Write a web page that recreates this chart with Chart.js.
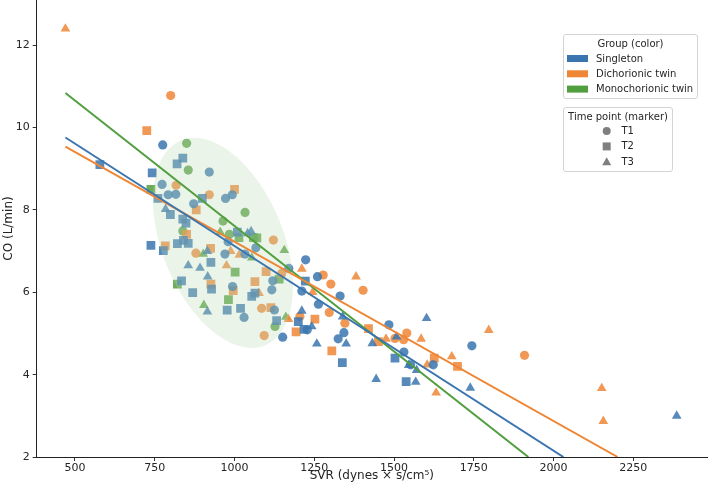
<!DOCTYPE html>
<html><head><meta charset="utf-8">
<script src="https://cdn.jsdelivr.net/npm/chart.js@4.4.0/dist/chart.umd.min.js"></script>
<style>html,body{margin:0;padding:0;background:#fff}#wrap{width:709px;height:491px;position:relative}</style>
</head><body><div id="wrap"><canvas id="c"></canvas></div>
<script>
// ---- data ----
const groups = ['Singleton', 'Dichorionic twin', 'Monochorionic twin'];
const timePoints = ['T1', 'T2', 'T3'];
const xTicks = [500, 750, 1000, 1250, 1500, 1750, 2000, 2250];
const yTicks = [2, 4, 6, 8, 10, 12];

const singletonT1 = [[775,9.58],[921,8.92],[773,8.62],[792,8.37],[816,8.38],[972,8.28],[993,8.37],[872,8.15],[980,7.23],[1067,7.08],[970,6.93],[1033,6.93],[1120,6.28],[1170,6.58],[994,6.14],[1117,6.06],[1125,5.57],[1030,5.39],[1151,4.91],[1228,5.09],[1223,6.79],[1260,6.38],[1263,5.71],[1331,5.91],[1343,5.02],[1325,4.87],[1484,5.21],[1531,4.55],[1552,4.24],[1623,4.24],[1744,4.70],[1211,6.03]];
const singletonT2 = [[578,9.1],[838,9.26],[820,9.12],[742,8.9],[760,8.28],[899,8.28],[799,7.89],[838,7.78],[848,7.68],[1009,7.46],[738,7.14],[821,7.18],[840,7.26],[855,7.19],[777,7.01],[926,6.73],[834,6.28],[928,6.08],[869,5.99],[1054,5.90],[1064,5.98],[977,5.57],[1019,5.61],[1132,5.31],[1200,5.29],[1218,5.10],[1338,4.29],[1503,4.40],[1538,3.83],[1222,6.27]];
const singletonT3 = [[784,8.02],[1052,7.48],[1041,7.43],[915,7.0],[855,6.65],[892,6.59],[916,6.38],[915,5.53],[1242,5.17],[1211,5.55],[1339,5.41],[1258,4.75],[1350,4.75],[1432,4.76],[1508,4.92],[1602,5.37],[1546,4.23],[1571,4.11],[1568,3.82],[1444,3.89],[1739,3.68],[2386,3.0]];
const dichorionicT1 = [[800,10.78],[817,8.6],[921,8.37],[1122,7.27],[879,6.95],[1148,6.46],[1085,5.61],[1093,4.95],[1205,5.41],[1278,6.42],[1302,6.20],[1297,5.51],[1346,5.25],[1403,6.05],[1503,4.88],[1530,4.85],[1540,5.01],[1909,4.47]];
const dichorionicT2 = [[725,9.93],[1000,8.5],[880,8.0],[850,7.41],[783,7.13],[925,7.07],[1099,6.5],[926,6.2],[1064,6.26],[996,6.04],[1114,5.63],[1193,5.04],[1252,5.35],[1305,4.58],[1420,5.12],[1451,4.80],[1626,4.40],[1699,4.20]];
const dichorionicT3 = [[470,12.4],[988,7.0],[1015,6.91],[975,6.65],[1077,5.98],[1169,5.35],[1211,6.57],[1245,6.0],[1381,6.38],[1475,4.87],[1585,4.87],[1604,4.24],[1632,3.56],[1681,4.44],[1797,5.08],[2151,3.67],[2156,2.87]];
const monochorionicT1 = [[850,9.62],[855,8.97],[1033,7.94],[964,7.73],[838,7.49],[984,7.41],[1127,5.17]];
const monochorionicT2 = [[738,8.5],[1014,7.33],[1070,7.32],[1059,7.33],[1002,6.49],[1140,6.32],[821,6.2],[981,5.82]];
const monochorionicT3 = [[955,7.46],[1156,7.02],[902,6.93],[1054,6.84],[904,5.69],[1161,5.40]];

// regression line end points
const singletonFit = [[470,9.76],[2031,2]];
const dichorionicFit = [[470,9.54],[2201,2]];
const monochorionicFit = [[470,10.84],[1921,2]];

// shaded ellipse in data units: centre, semi-axis vectors
const ellipseCenter = [964, 7.2];
const ellipseMajor = [131, -2.49];
const ellipseMinor = [-176, -0.556];

// ---- styling ----
const colors = ['#3a75af', '#ef8636', '#519e3e'];
const alphaColors = ['rgba(58,117,175,0.85)', 'rgba(239,134,54,0.85)', 'rgba(81,158,62,0.85)'];
const styles = ['circle', 'rect', 'triangle'];
const radii = [4.6, 6.2, 5.6];
const FONT = '"DejaVu Sans", sans-serif';
const pts = a => a.map(p => ({x: p[0], y: p[1]}));

const seriesByGroup = [
  [singletonT1, singletonT2, singletonT3],
  [dichorionicT1, dichorionicT2, dichorionicT3],
  [monochorionicT1, monochorionicT2, monochorionicT3]
];
const fits = [singletonFit, dichorionicFit, monochorionicFit];

const datasets = [];
seriesByGroup.forEach((g, gi) => g.forEach((s, ti) => {
  datasets.push({
    type: 'scatter', label: groups[gi] + ' ' + timePoints[ti], data: pts(s),
    pointStyle: styles[ti], pointRadius: radii[ti], pointHoverRadius: radii[ti],
    backgroundColor: alphaColors[gi], borderWidth: 0, order: 2
  });
}));
fits.forEach((f, gi) => datasets.push({
  type: 'line', label: groups[gi] + ' fit', data: pts(f), borderColor: colors[gi],
  borderWidth: 2, pointRadius: 0, fill: false, order: 1, tension: 0
}));

const ellipsePlugin = {
  id: 'ellipse',
  afterDatasetDraw(chart, args) {
    if (args.index !== 0) return;
    const xs = chart.scales.x, ys = chart.scales.y, ctx = chart.ctx;
    ctx.save();
    ctx.beginPath();
    for (let i = 0; i <= 120; i++) {
      const t = i / 120 * Math.PI * 2;
      const vx = ellipseCenter[0] + ellipseMajor[0] * Math.cos(t) + ellipseMinor[0] * Math.sin(t);
      const vy = ellipseCenter[1] + ellipseMajor[1] * Math.cos(t) + ellipseMinor[1] * Math.sin(t);
      const px = xs.getPixelForValue(vx), py = ys.getPixelForValue(vy);
      if (i === 0) ctx.moveTo(px, py); else ctx.lineTo(px, py);
    }
    ctx.closePath();
    ctx.fillStyle = 'rgba(190,220,180,0.3)';
    ctx.fill();
    ctx.restore();
  }
};

function roundBox(ctx, x, y, w, h, r) {
  ctx.beginPath();
  ctx.moveTo(x + r, y); ctx.lineTo(x + w - r, y); ctx.quadraticCurveTo(x + w, y, x + w, y + r);
  ctx.lineTo(x + w, y + h - r); ctx.quadraticCurveTo(x + w, y + h, x + w - r, y + h);
  ctx.lineTo(x + r, y + h); ctx.quadraticCurveTo(x, y + h, x, y + h - r);
  ctx.lineTo(x, y + r); ctx.quadraticCurveTo(x, y, x + r, y); ctx.closePath();
  ctx.fillStyle = 'rgba(255,255,255,0.85)'; ctx.fill();
  ctx.strokeStyle = '#d3d3d3'; ctx.lineWidth = 1; ctx.stroke();
}

const legendPlugin = {
  id: 'twoLegends',
  afterDraw(chart) {
    const ctx = chart.ctx;
    ctx.save();
    ctx.font = '10px ' + FONT; ctx.textBaseline = 'middle';
    // group legend
    roundBox(ctx, 563.5, 34.5, 134, 64, 2.5);
    ctx.fillStyle = '#262626'; ctx.textAlign = 'center';
    ctx.fillText('Group (color)', 630.5, 44);
    groups.forEach((g, i) => {
      const y = 58.5 + i * 15.3;
      ctx.fillStyle = colors[i]; ctx.fillRect(567, y - 3.5, 21, 7);
      ctx.fillStyle = '#262626'; ctx.textAlign = 'left'; ctx.fillText(g, 596, y + 0.5);
    });
    // time point legend
    roundBox(ctx, 563.5, 107.5, 109, 64, 2.5);
    ctx.fillStyle = '#262626'; ctx.textAlign = 'center';
    ctx.fillText('Time point (marker)', 618, 117);
    timePoints.forEach((t, i) => {
      const y = 131 + i * 15.4;
      ctx.fillStyle = '#7f7f7f';
      ctx.beginPath();
      if (i === 0) { ctx.arc(606.7, y, 4, 0, Math.PI * 2); }
      else if (i === 1) { ctx.rect(602.7, y - 4, 8, 8); }
      else { ctx.moveTo(606.7, y - 4.5); ctx.lineTo(611.2, y + 3.5); ctx.lineTo(602.2, y + 3.5); ctx.closePath(); }
      ctx.fill();
      ctx.fillStyle = '#262626'; ctx.textAlign = 'left'; ctx.fillText(t, 621.5, y + 0.5);
    });
    ctx.restore();
  }
};

new Chart(document.getElementById('c'), {
  type: 'scatter',
  data: {datasets},
  options: {
    responsive: true, maintainAspectRatio: false, animation: false,
    layout: {autoPadding: false, padding: {left: 0, right: 2, top: 0, bottom: 0}},
    plugins: {legend: {display: false}, tooltip: {enabled: false}},
    scales: {
      x: {
        type: 'linear', min: 380, max: 2481,
        afterBuildTicks: s => { s.ticks = xTicks.map(v => ({value: v})); },
        afterFit: s => { s.height = 34; s.paddingLeft = 0; s.paddingRight = 0; },
        grid: {drawOnChartArea: false, drawTicks: true, tickLength: 4, color: '#333'},
        border: {display: true, color: '#222', width: 1},
        ticks: {color: '#262626', font: {family: FONT, size: 11}, padding: 1, maxRotation: 0, autoSkip: false, callback: v => String(v)},
        title: {display: true, text: 'SVR (dynes × s/cm⁵)', color: '#262626', font: {family: FONT, size: 12}, padding: {top: 0, bottom: 7.8}}
      },
      y: {
        type: 'linear', min: 2, max: 13.1,
        afterBuildTicks: s => { s.ticks = yTicks.map(v => ({value: v})); },
        afterFit: s => { s.width = 36.7; s.paddingTop = 0; s.paddingBottom = 0; },
        grid: {drawOnChartArea: false, drawTicks: true, tickLength: 4, color: '#333'},
        border: {display: true, color: '#222', width: 1},
        ticks: {color: '#262626', font: {family: FONT, size: 11}, padding: 3, autoSkip: false, callback: v => String(v)},
        title: {display: true, text: 'CO (L/min)', color: '#262626', font: {family: FONT, size: 12}, padding: {top: 2, bottom: 0}}
      }
    }
  },
  plugins: [ellipsePlugin, legendPlugin]
});
</script>
</body></html>
